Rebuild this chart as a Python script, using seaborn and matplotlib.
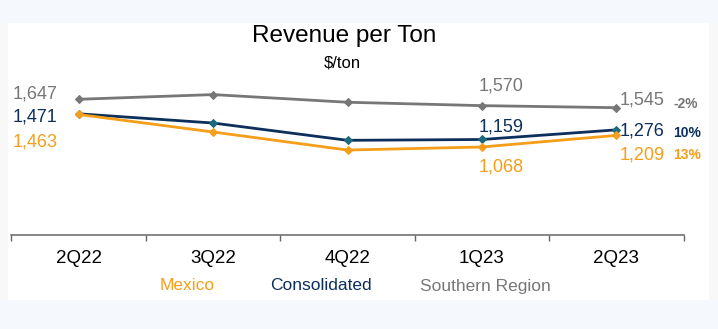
import matplotlib
matplotlib.use("Agg")
import matplotlib.pyplot as plt
from matplotlib.patches import Rectangle
from matplotlib.ticker import FixedLocator
import seaborn as sns
import numpy as np

quarters = ["2Q22", "3Q22", "4Q22", "1Q23", "2Q23"]
southern = [1647, 1704, 1611, 1570, 1545]
consolidated = [1471, 1359, 1149, 1159, 1276]
mexico = [1463, 1250, 1031, 1068, 1209]
series_names = ["Southern Region", "Consolidated", "Mexico"]
changes = ["-2%", "10%", "13%"]
labeled_idx = {"Southern Region": [0, 3, 4], "Consolidated": [0, 3, 4], "Mexico": [0, 3, 4]}

sns.set_theme(style="white")
plt.rcParams["font.family"] = ["Liberation Sans", "DejaVu Sans"]

W, H = 718, 329
fig = plt.figure(figsize=(W / 100, H / 100), dpi=100, facecolor="#f5f8fc")

# white panel and side strips
def px_rect(x0, y0, x1, y1, color):
    fig.patches.append(Rectangle((x0 / W, 1 - y1 / H), (x1 - x0) / W, (y1 - y0) / H,
                                 transform=fig.transFigure, facecolor=color,
                                 edgecolor="none", zorder=-5))
px_rect(0, 23, 8, 300, "#f8f8f8")
px_rect(709, 23, 718, 300, "#f8f8f8")
px_rect(8, 23, 709, 300, "white")

left, right = 11.4, 683.6
bottom_px, top_px = 235, 29
ax = fig.add_axes([left / W, 1 - bottom_px / H, (right - left) / W, (bottom_px - top_px) / H])
ax.set_facecolor("none")
ax.set_zorder(2)

colors = {"Southern Region": "#777777", "Consolidated": "#0c2f5c", "Mexico": "#f59e1a"}
marker_colors = {"Southern Region": "#777777", "Consolidated": "#1b6b7e", "Mexico": "#f59e1a"}
values = {"Southern Region": southern, "Consolidated": consolidated, "Mexico": mexico}

xpos = np.arange(len(quarters))
for name in series_names:
    sns.lineplot(x=xpos, y=values[name], ax=ax, color=colors[name], lw=2.0,
                 marker="D", markersize=4.5, markerfacecolor=marker_colors[name],
                 markeredgecolor=marker_colors[name], sort=False, legend=False)

ax.set_xlim(-0.5, len(quarters) - 0.5)
ax.set_ylim(0, 2500)

# data labels (offsets in pixels)
offsets = {
    "Southern Region": {0: (-21, 5.3, "right"), 3: (-3, 20, "left"), 4: (3, 7.7, "left")},
    "Consolidated": {0: (-21, -3.7, "right"), 3: (-3, 12, "left"), 4: (3, -1.5, "left")},
    "Mexico": {0: (-21, -27.7, "right"), 3: (-3, -20, "left"), 4: (3, -19.4, "left")},
}
for name in series_names:
    for i in labeled_idx[name]:
        dx, dy, ha = offsets[name][i]
        ax.annotate(f"{values[name][i]:,}", (xpos[i], values[name][i]),
                    xytext=(dx, dy), textcoords="offset pixels", ha=ha, va="center",
                    fontsize=13, color=colors[name], annotation_clip=False)

pct_dy = {"Southern Region": 3.4, "Consolidated": -3, "Mexico": -19.4}
for name, ch in zip(series_names, changes):
    ax.annotate(ch, (xpos[-1], values[name][-1]), xytext=(57, pct_dy[name]),
                textcoords="offset pixels", ha="left", va="center", fontsize=10,
                fontweight="bold", color=colors[name], annotation_clip=False)

# axes styling
for s in ["top", "right", "left"]:
    ax.spines[s].set_visible(False)
ax.spines["bottom"].set_color("#666666")
ax.spines["bottom"].set_linewidth(1.1)
ax.set_yticks([])
ax.set_xticks(xpos)
ax.set_xticklabels(quarters, fontsize=13.5, color="black")
ax.xaxis.set_minor_locator(FixedLocator(np.arange(-0.5, len(quarters), 1.0)))
ax.tick_params(axis="x", which="major", length=0, pad=11)
ax.tick_params(axis="x", which="minor", length=4.3, width=1.0, color="#666666", direction="out", bottom=True)
ax.set_xlabel("")
ax.set_ylabel("")

# title / subtitle
fig.text(344 / W, 1 - 36 / H, "Revenue per Ton", ha="center", va="center", fontsize=17.5, color="black")
fig.text(342 / W, 1 - 63 / H, "$/ton", ha="center", va="center", fontsize=12, color="black")

# legend as colored text
legend_pos = {"Mexico": 187, "Consolidated": 321, "Southern Region": 485}
for name in ["Mexico", "Consolidated", "Southern Region"]:
    fig.text(legend_pos[name] / W, 1 - 286 / H, name, ha="center", va="center",
             fontsize=12.5, color=colors[name])

fig.savefig("out.png", dpi=100, facecolor=fig.get_facecolor())
